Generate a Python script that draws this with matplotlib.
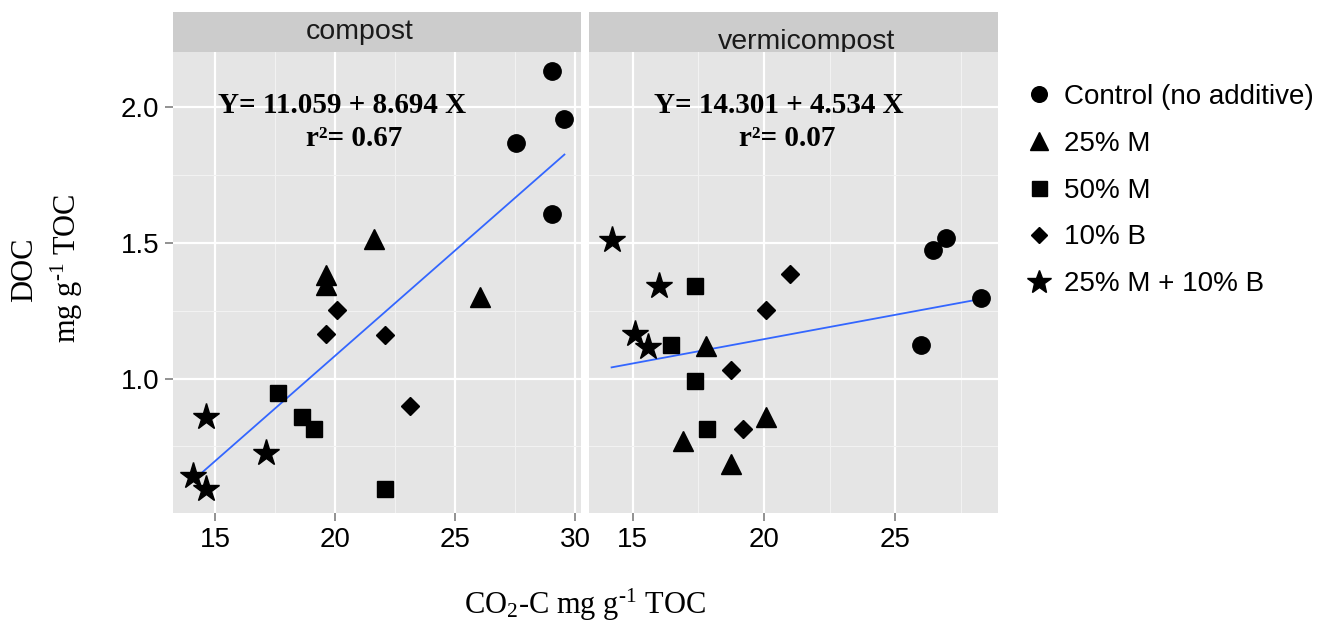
import numpy as np
import matplotlib
matplotlib.use("Agg")
import matplotlib.pyplot as plt
from matplotlib.lines import Line2D

plt.rcParams['font.family'] = ['Liberation Sans', 'DejaVu Sans']
plt.rcParams['mathtext.fontset'] = 'custom'
plt.rcParams['mathtext.rm'] = 'Liberation Serif'
plt.rcParams['mathtext.it'] = 'Liberation Serif:italic'
plt.rcParams['mathtext.bf'] = 'Liberation Serif:bold'

groups = ["Control (no additive)", "25% M", "50% M", "10% B", "25% M + 10% B"]
markers = ["o", "^", "s", "D", "*"]
sizes = [12.5, 14, 12, 9.5, 20]

# compost panel (CO2-C, DOC) per treatment
comp_x = [
    [29.04, 29.55, 27.55, 29.04],
    [21.60, 19.61, 19.61, 26.05],
    [17.64, 18.61, 19.11, 22.08],
    [20.10, 19.61, 22.08, 23.13],
    [14.63, 17.13, 14.10, 14.63],
]
comp_y = [
    [2.133, 1.958, 1.868, 1.605],
    [1.516, 1.380, 1.343, 1.300],
    [0.946, 0.860, 0.814, 0.593],
    [1.254, 1.165, 1.162, 0.900],
    [0.857, 0.726, 0.642, 0.593],
]

# vermicompost panel
verm_x = [
    [26.92, 26.43, 28.26, 25.98],
    [17.81, 20.09, 16.92, 18.73],
    [17.38, 16.46, 17.38, 17.83],
    [20.99, 20.09, 18.73, 19.19],
    [14.20, 16.00, 15.09, 15.57],
]
verm_y = [
    [1.518, 1.472, 1.296, 1.122],
    [1.120, 0.857, 0.771, 0.685],
    [1.341, 1.122, 0.990, 0.814],
    [1.386, 1.254, 1.033, 0.814],
    [1.512, 1.340, 1.165, 1.116],
]

panels = ["compost", "vermicompost"]
equations = ["Y= 11.059 + 8.694 X", "Y= 14.301 + 4.534 X"]
r2_labels = ["r\u00b2= 0.67", "r\u00b2= 0.07"]

W, H = 1330, 621
fig = plt.figure(figsize=(W / 100, H / 100), dpi=100)

boxes = [(173, 581), (589, 998)]
xlims = [(13.25, 30.24), (13.34, 28.91)]
ylim = (0.505, 2.203)
strip_text_x = [360, 807]
strip_text_y = [32, 42]
eq_x = [20.3, 20.55]
r2_x = [20.78, 20.9]

for i, name in enumerate(panels):
    x0, x1 = boxes[i]
    ax = fig.add_axes([x0 / W, 1 - 513 / H, (x1 - x0) / W, 461 / H])
    ax.set_facecolor('#E5E5E5')
    for s in ax.spines.values():
        s.set_visible(False)
    ax.set_xlim(*xlims[i])
    ax.set_ylim(*ylim)
    ax.set_xticks([15, 20, 25, 30] if i == 0 else [15, 20, 25])
    ax.set_xticks([17.5, 22.5, 27.5], minor=True)
    ax.set_yticks([1.0, 1.5, 2.0])
    ax.set_yticks([0.75, 1.25, 1.75], minor=True)
    ax.grid(which='major', color='white', linewidth=1.6)
    ax.grid(which='minor', color='#F2F2F2', linewidth=0.8)
    ax.set_axisbelow(True)
    ax.tick_params(which='major', direction='out', length=6, width=1.2, color='#7F7F7F',
                   labelsize=20, labelcolor='black', pad=4)
    ax.tick_params(which='minor', length=0)
    if i == 0:
        ax.set_yticklabels(['1.0', '1.5', '2.0'])
    else:
        ax.tick_params(axis='y', which='both', left=False, labelleft=False)

    xs = comp_x if i == 0 else verm_x
    ys = comp_y if i == 0 else verm_y
    for g in range(len(groups)):
        ax.plot(xs[g], ys[g], linestyle='none', marker=markers[g], markersize=sizes[g],
                color='black', zorder=3)

    allx = np.concatenate([np.array(v) for v in xs])
    ally = np.concatenate([np.array(v) for v in ys])
    slope, icpt = np.polyfit(allx, ally, 1)
    lx = np.linspace(allx.min(), allx.max(), 80)
    ax.plot(lx, icpt + slope * lx, color='#3366FF', linewidth=1.3, zorder=2)

    ax.text(eq_x[i], 2.007, equations[i], ha='center', va='center', fontsize=21,
            fontweight='bold', family='Liberation Serif')
    ax.text(r2_x[i], 1.886, r2_labels[i], ha='center', va='center', fontsize=21,
            fontweight='bold', family='Liberation Serif')

    # facet strip
    sax = fig.add_axes([x0 / W, 1 - 52 / H, (x1 - x0) / W, 40 / H])
    sax.set_facecolor('#CCCCCC')
    sax.set_xticks([])
    sax.set_yticks([])
    for s in sax.spines.values():
        s.set_visible(False)
    sax.set_xlim(x0, x1)
    sax.set_ylim(52, 12)
    sax.text(strip_text_x[i], strip_text_y[i], name, ha='center', va='center',
             fontsize=20.5, color='#1A1A1A', clip_on=True)

fig.text(585 / W, 1 - 605 / H, r'CO$_2$-C mg g$^{\text{-}1}$ TOC', ha='center', va='center',
         fontsize=22, family='Liberation Serif')
fig.text(25 / W, 1 - 270 / H, 'DOC', rotation=90, ha='center', va='center',
         fontsize=22, family='Liberation Serif')
fig.text(67 / W, 1 - 268 / H, r'mg g$^{\text{-}1}$ TOC', rotation=90, ha='center', va='center',
         fontsize=22, family='Liberation Serif')

handles = [Line2D([], [], linestyle='none', marker=markers[g], markersize=sizes[g] * 0.9,
                  color='black') for g in range(len(groups))]
fig.legend(handles, groups, loc='upper left', bbox_to_anchor=(1025 / W, 1 - 84 / H),
           frameon=False, fontsize=20, handlelength=1.0, handletextpad=0.4,
           labelspacing=0.75, borderpad=0, borderaxespad=0)

fig.savefig('out.png', dpi=100)
